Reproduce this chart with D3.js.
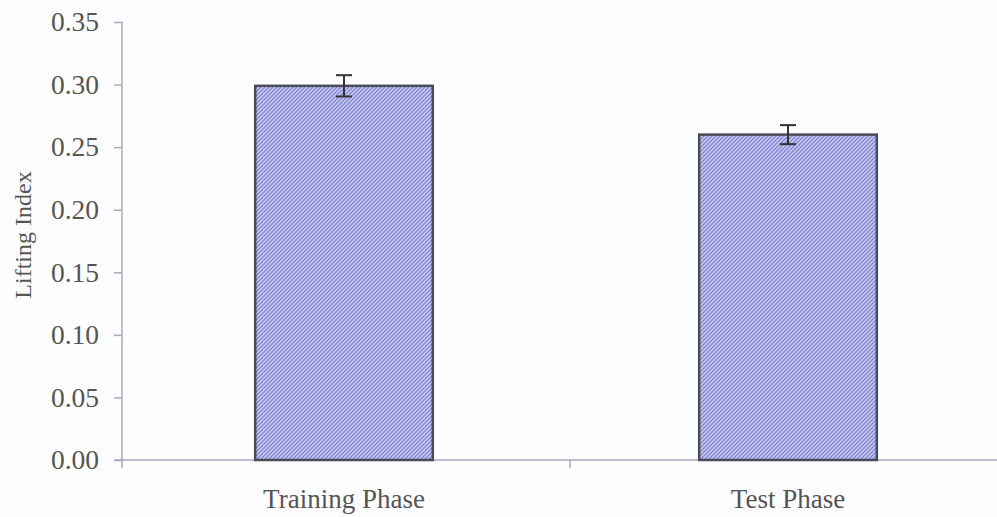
<!DOCTYPE html>
<html><head><meta charset="utf-8">
<script src="https://cdn.jsdelivr.net/npm/d3@7"></script>
<style>html,body{margin:0;padding:0;background:#fdfdff;}svg{display:block;}</style>
</head><body>
<script>
const categories = ["Training Phase", "Test Phase"];
const values = [0.299, 0.260];
const errors = [0.0085, 0.0076];
const yTicks = [0, 0.05, 0.10, 0.15, 0.20, 0.25, 0.30, 0.35];
const yTitle = "Lifting Index";

const W = 997, H = 517;
const svg = d3.select("body").append("svg").attr("width", W).attr("height", H);
const defs = svg.append("defs");
const pat = defs.append("pattern").attr("id", "hatch").attr("patternUnits", "userSpaceOnUse")
  .attr("width", 4).attr("height", 4);
pat.append("rect").attr("width", 4).attr("height", 4).attr("fill", "#c8caf3");
pat.append("path").attr("d", "M-1,1 l2,-2 M0,4 l4,-4 M3,5 l2,-2")
  .attr("stroke", "#8589d4").attr("stroke-width", 1.4);

const x0 = 122, x1 = 1018, yTop = 22, yBot = 460;
const x = d3.scaleBand().domain(categories).range([x0, 1010]).paddingInner(0.6).paddingOuter(0.3);
const xb = d3.scaleBand().domain(categories).range([x0, x1]);
const y = d3.scaleLinear().domain([0, 0.35]).range([yBot, yTop]);

const font = "'Liberation Serif','Times New Roman',serif";
const axisCol = "#a9a9bd";
const textCol = "#555";

// y axis
const ya = svg.append("g").attr("transform", `translate(${x0},0)`)
  .call(d3.axisLeft(y).tickValues(yTicks).tickFormat(d3.format(".2f")).tickSize(8).tickPadding(15));
ya.select(".domain").attr("stroke", axisCol).attr("stroke-width", 1.5).attr("d", `M0,${yTop}V${yBot + 8}`);
ya.selectAll(".tick line").attr("stroke", axisCol).attr("stroke-width", 1.5);
ya.selectAll(".tick text").attr("fill", textCol).style("font-family", font).style("font-size", "27.5px");

// x axis
const xa = svg.append("g").attr("transform", `translate(0,${yBot})`);
xa.append("line").attr("x1", x0 - 7).attr("x2", W).attr("y1", 0).attr("y2", 0)
  .attr("stroke", axisCol).attr("stroke-width", 1.5);
xa.selectAll("line.xt").data(categories.slice(1)).join("line").attr("class", "xt")
  .attr("x1", d => xb(d)).attr("x2", d => xb(d)).attr("y1", 0).attr("y2", 8)
  .attr("stroke", axisCol).attr("stroke-width", 1.5);
xa.selectAll("text").data(categories).join("text")
  .attr("x", d => x(d) + x.bandwidth() / 2).attr("y", 48)
  .attr("text-anchor", "middle").attr("fill", textCol)
  .style("font-family", font).style("font-size", "27px").text(d => d);

// bars
svg.append("g").selectAll("rect").data(categories).join("rect")
  .attr("x", d => x(d)).attr("width", x.bandwidth())
  .attr("y", (d, i) => y(values[i])).attr("height", (d, i) => y(0) - y(values[i]))
  .attr("fill", "url(#hatch)").attr("stroke", "#4a4a58").attr("stroke-width", 2.5);

// error bars
const eb = svg.append("g").attr("stroke", "#333").attr("stroke-width", 2);
categories.forEach((c, i) => {
  const cx = x(c) + x.bandwidth() / 2;
  const hi = y(values[i] + errors[i]), lo = y(values[i] - errors[i]);
  eb.append("line").attr("x1", cx).attr("x2", cx).attr("y1", hi).attr("y2", lo);
  eb.append("line").attr("x1", cx - 8).attr("x2", cx + 8).attr("y1", hi).attr("y2", hi);
  eb.append("line").attr("x1", cx - 8).attr("x2", cx + 8).attr("y1", lo).attr("y2", lo);
});

// y title
svg.append("text").attr("transform", `translate(31,235) rotate(-90)`)
  .attr("text-anchor", "middle").attr("fill", textCol)
  .style("font-family", font).style("font-size", "24px").text(yTitle);
</script>
</body></html>
